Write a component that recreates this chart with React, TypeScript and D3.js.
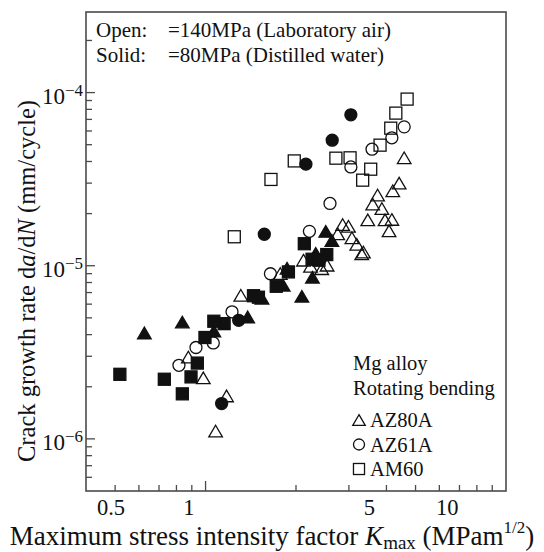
import React from "react";
import * as d3 from "d3";

// Data: [Kmax (MPa m^1/2), da/dN (mm/cycle)]
const az80aAir: [number, number][] = [
  [6.52, 3.0e-5], [6.16, 2.71e-5], [5.38, 2.56e-5], [5.15, 2.27e-5], [5.59, 2.14e-5],
  [4.93, 1.84e-5], [5.75, 1.84e-5], [6.11, 1.85e-5], [5.96, 1.59e-5], [6.82, 4.2e-5],
  [3.94, 1.73e-5], [4.15, 1.69e-5], [3.77, 1.53e-5], [4.28, 1.45e-5], [4.47, 1.33e-5],
  [4.74, 1.2e-5], [4.67, 1.17e-5], [2.78, 1.076e-5], [2.96, 9.93e-6], [3.27, 9.61e-6],
  [3.43, 1.007e-5], [2.26, 9.01e-6], [1.59, 6.75e-6], [0.996, 2.97e-6], [1.138, 2.25e-6],
  [1.4, 1.77e-6], [1.27, 1.11e-6],
];
const az61aAir: [number, number][] = [
  [6.82, 6.34e-5], [6.11, 5.48e-5], [5.12, 4.71e-5], [4.24, 3.72e-5], [3.52, 2.29e-5],
  [2.93, 1.58e-5], [2.07, 8.99e-6], [1.47, 5.42e-6], [1.244, 3.58e-6], [1.066, 3.37e-6],
  [0.916, 2.66e-6],
];
const am60Air: [number, number][] = [
  [7.0, 9.17e-5], [6.33, 7.61e-5], [6.05, 6.23e-5], [5.5, 4.97e-5], [5.06, 3.61e-5],
  [4.71, 3.12e-5], [4.21, 4.2e-5], [3.71, 4.18e-5], [2.56, 4.03e-5], [2.08, 3.15e-5],
  [1.5, 1.47e-5],
];
const az61aWater: [number, number][] = [
  [4.24, 7.44e-5], [3.59, 5.31e-5], [2.84, 3.86e-5], [1.96, 1.52e-5], [1.56, 4.84e-6],
  [1.34, 1.6e-6],
];
const az80aWater: [number, number][] = [
  [3.39, 1.58e-5], [3.58, 1.4e-5], [3.1, 1.18e-5], [3.01, 8.58e-6], [2.74, 6.66e-6],
  [2.32, 7.71e-6], [1.92, 6.49e-6], [1.69, 5.06e-6], [1.25, 4.2e-6], [0.944, 4.73e-6],
  [0.673, 4.09e-6], [2.4, 9.67e-6],
];
const am60Water: [number, number][] = [
  [2.8, 1.34e-5], [3.42, 1.16e-5], [3.0, 1.09e-5], [3.19, 1.076e-5], [2.43, 9.21e-6],
  [2.18, 7.61e-6], [1.78, 6.71e-6], [1.86, 6.58e-6], [1.37, 4.63e-6], [1.25, 4.78e-6],
  [1.155, 3.85e-6], [1.079, 2.74e-6], [1.02, 2.28e-6], [0.944, 1.82e-6], [0.804, 2.21e-6],
  [0.541, 2.36e-6],
];

const xTickLabels = [0.5, 1, 5, 10];
const xTickLabelText = ["0.5", "1", "5", "10"];
const yMajor = [1e-6, 1e-5, 1e-4];
const yMajorExp = ["−6", "−5", "−4"];
const legendItems = ["AZ80A", "AZ61A", "AM60"];

const W = 544, H = 552;
const L = 86, R = 506, T = 12, B = 491;
const FONT = "'Liberation Serif', 'Times New Roman', serif";
const AX = "#4a4a4a";

type Shape = "tri" | "circ" | "sq";

function Marker({ cx, cy, shape, filled, s = 1 }: { cx: number; cy: number; shape: Shape; filled: boolean; s?: number }) {
  const fill = filled ? "#111" : "none";
  const stroke = "#111";
  const sw = 1.3;
  if (shape === "circ") return <circle cx={cx} cy={cy} r={6 * s} fill={fill} stroke={stroke} strokeWidth={sw} />;
  if (shape === "sq") {
    const h = 6 * s;
    return <rect x={cx - h} y={cy - h} width={2 * h} height={2 * h} fill={fill} stroke={stroke} strokeWidth={sw} />;
  }
  const w = 6.8 * s, ht = 11.6 * s;
  const p = `M${cx},${cy - ht / 2}L${cx + w},${cy + ht / 2}L${cx - w},${cy + ht / 2}Z`;
  return <path d={p} fill={fill} stroke={stroke} strokeWidth={sw} strokeLinejoin="miter" />;
}

export default function App() {
  // scale in which the data and tick labels are read
  const x = d3.scaleLog().domain([0.4, 16.9]).range([L, R]);
  // scale along which the tick marks are drawn in the figure
  const xt = d3.scaleLog().domain([0.4, 10]).range([L, R]);
  const y = d3.scaleLog().domain([5e-7, 2.92e-4]).range([B, T]);

  const xTickVals = xt.ticks().filter((v) => v > 0.41 && v < 9.99);
  const yTickVals = y.ticks().filter((v) => v > 5.1e-7 && v < 2.9e-4);
  const isMajor = (v: number) => Math.abs(Math.log10(v) - Math.round(Math.log10(v))) < 1e-6;

  const series: { data: [number, number][]; shape: Shape; filled: boolean }[] = [
    { data: am60Air, shape: "sq", filled: false },
    { data: az61aAir, shape: "circ", filled: false },
    { data: az80aAir, shape: "tri", filled: false },
    { data: az61aWater, shape: "circ", filled: true },
    { data: az80aWater, shape: "tri", filled: true },
    { data: am60Water, shape: "sq", filled: true },
  ];

  return (
    <svg width={W} height={H} style={{ position: "absolute", left: 0, top: 0, background: "#fff" }} fontFamily={FONT}>
      <rect x={0} y={0} width={W} height={H} fill="#fff" />
      {/* frame */}
      <rect x={L} y={T} width={R - L} height={B - T} fill="none" stroke={AX} strokeWidth={1.6} />
      {/* x ticks */}
      {xTickVals.map((v) => (
        <line key={"xt" + v} x1={xt(v)} x2={xt(v)} y1={B} y2={B - (isMajor(v) ? 10 : 6)} stroke={AX} strokeWidth={1.3} />
      ))}
      {/* y ticks */}
      {yTickVals.map((v) => (
        <line key={"yt" + v} x1={L} x2={L + (isMajor(v) ? 9 : 6)} y1={y(v)} y2={y(v)} stroke={AX} strokeWidth={1.3} />
      ))}
      {/* x tick labels */}
      {xTickLabels.map((v, i) => (
        <text key={"xl" + v} x={x(v)} y={515} fontSize={22.5} textAnchor="middle" fill="#111">
          {xTickLabelText[i]}
        </text>
      ))}
      {/* y tick labels */}
      {yMajor.map((v, i) => (
        <text key={"yl" + v} x={83} y={y(v) + 11.5} fontSize={23} textAnchor="end" fill="#111">
          10<tspan dy={-8} fontSize={17}>{yMajorExp[i]}</tspan>
        </text>
      ))}
      {/* axis titles */}
      <text x={272} y={545} fontSize={27} textAnchor="middle" fill="#111">
        Maximum stress intensity factor <tspan fontStyle="italic">K</tspan>
        <tspan fontSize={19} dy={4}>max</tspan>
        <tspan dy={-4}> (MPam</tspan>
        <tspan fontSize={17} dy={-12}>1/2</tspan>
        <tspan dy={12}>)</tspan>
      </text>
      <text transform={`translate(35,281) rotate(-90)`} fontSize={24.5} textAnchor="middle" fill="#111">
        Crack growth rate  d<tspan fontStyle="italic">a</tspan>/d<tspan fontStyle="italic">N</tspan>  (mm/cycle)
      </text>
      {/* condition legend */}
      <text x={96} y={37} fontSize={21} fill="#111">Open:</text>
      <text x={168} y={37} fontSize={21} fill="#111">=140MPa (Laboratory air)</text>
      <text x={96} y={62} fontSize={21} fill="#111">Solid:</text>
      <text x={168} y={62} fontSize={21} fill="#111">=80MPa (Distilled water)</text>
      {/* data */}
      {series.map((s, si) =>
        s.data.map((d, i) => (
          <Marker key={si + "-" + i} cx={x(d[0])} cy={y(d[1])} shape={s.shape} filled={s.filled} />
        ))
      )}
      {/* material legend */}
      <text x={353} y={370} fontSize={20.5} fill="#111">Mg alloy</text>
      <text x={353} y={395} fontSize={20.5} fill="#111">Rotating bending</text>
      {legendItems.map((t, i) => (
        <g key={t}>
          <Marker cx={359} cy={420 + i * 24.5} shape={(["tri", "circ", "sq"] as Shape[])[i]} filled={false} s={0.92} />
          <text x={370} y={427 + i * 24.5} fontSize={20.5} fill="#111">{t}</text>
        </g>
      ))}
    </svg>
  );
}
